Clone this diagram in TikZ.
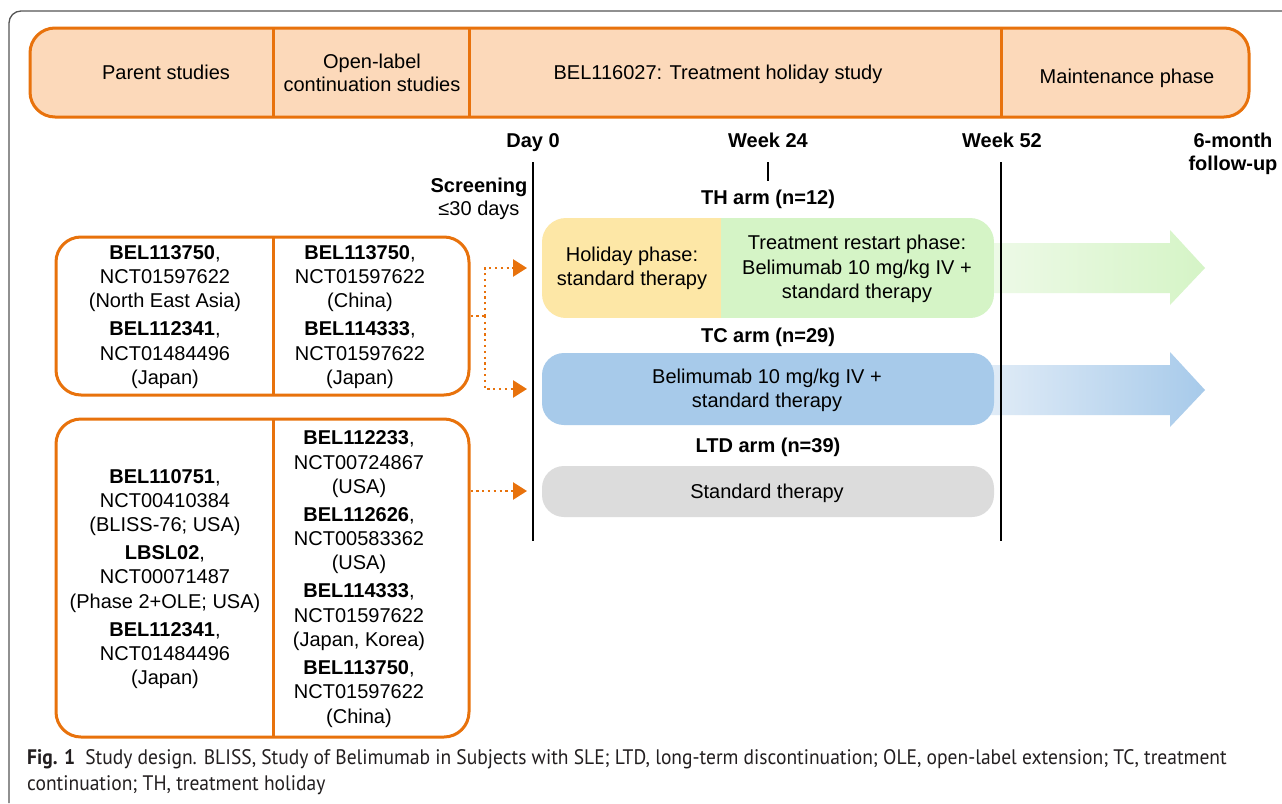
\documentclass[tikz,border=0pt]{standalone}
\usepackage{fontspec}
\setmainfont{Liberation Sans}
\newfontfamily\capfont[FakeStretch=0.93]{PT Sans}
\usetikzlibrary{arrows.meta}
\definecolor{orng}{HTML}{E8720C}
\definecolor{peach}{HTML}{FCD9BA}
\definecolor{yel}{HTML}{FDE7A6}
\definecolor{grn}{HTML}{D5F4C6}
\definecolor{grnl}{HTML}{EEFAE8}
\definecolor{blu}{HTML}{A7CAEA}
\definecolor{blul}{HTML}{E1ECF7}
\definecolor{gry}{HTML}{DCDCDC}
\definecolor{frame}{HTML}{555555}
\definecolor{captxt}{HTML}{231F20}
\tikzset{
  txt/.style={align=center, inner sep=0pt, font=\fontsize{20}{24.3}\selectfont},
  htxt/.style={align=center, inner sep=0pt, font=\fontsize{20}{22.5}\selectfont},
  lbl/.style={align=center, inner sep=0pt, font=\bfseries\fontsize{20}{23}\selectfont},
  obox/.style={draw=orng, line width=3pt, rounded corners=25pt, inner sep=0pt},
  odiv/.style={draw=orng, line width=3pt},
  tline/.style={draw=black, line width=2pt},
  armbox/.style={rounded corners=22pt, inner sep=0pt, minimum width=452pt},
  dotarr/.style={draw=orng, line width=2.5pt, dash pattern=on 2.2pt off 3.6pt},
  tip/.style={-{Triangle[length=14pt,width=17pt,fill=orng]}},
  captext/.style={anchor=base west, inner sep=0pt, text=captxt, font=\capfont\fontsize{21}{26}\selectfont}
}
\begin{document}
\begin{tikzpicture}[x=1pt,y=-1pt]
\useasboundingbox (0,0) rectangle (1282,803);
\fill[white] (0,0) rectangle (1282,803);
% outer frame
\draw[frame, line width=1.3pt, rounded corners=12pt] (9,803) -- (9,11) -- (1282,11);

% header bar
\node[obox, fill=peach, minimum width=1219pt, minimum height=89pt] (header) at (639.5,72.5) {};
\draw[odiv] (273,28) -- (273,117);
\draw[odiv] (469,28) -- (469,117);
\draw[odiv] (1001,28) -- (1001,117);
\node[htxt, anchor=base] (h1) at (166,79) {Parent studies};
\node[htxt] (h2) at (372,73) {Open-label\\continuation studies};
\node[htxt, anchor=base] (h3) at (718,79) {BEL116027: Treatment holiday study};
\node[htxt, anchor=base] (h4) at (1127,83) {Maintenance phase};

% timeline labels
\node[lbl, anchor=base] (d0) at (533,147) {Day 0};
\node[lbl, anchor=base] (w24) at (768,147) {Week 24};
\node[lbl, anchor=base] (w52) at (1002,147) {Week 52};
\node[lbl] (fu) at (1233,154) {6-month\\follow-up};
\node[align=center, inner sep=0pt, font=\fontsize{20}{23}\selectfont] (scr) at (479,199) {\textbf{Screening}\\≤30 days};

% arrows (behind boxes)
\shade[left color=grnl, right color=grn] (985,243) -- (1170,243) -- (1170,230) -- (1205,268) -- (1170,305) -- (1170,293) -- (985,293) -- cycle;
\shade[left color=blul, right color=blu] (985,365) -- (1170,365) -- (1170,352) -- (1205,390) -- (1170,427) -- (1170,415) -- (985,415) -- cycle;

% TH arm box
\begin{scope}
\clip[rounded corners=24pt] (542,218) rectangle (994,318);
\fill[yel] (542,218) rectangle (721,318);
\fill[grn] (721,218) rectangle (994,318);
\end{scope}
\node[txt] (hol) at (632,268) {Holiday phase:\\standard therapy};
\node[txt] (rst) at (857,269) {Treatment restart phase:\\Belimumab 10 mg/kg IV +\\standard therapy};
\node[lbl, anchor=base] (tha) at (768,204) {TH arm (n=12)};

% TC arm
\node[lbl, anchor=base] (tca) at (768,342) {TC arm (n=29)};
\node[armbox, fill=blu, minimum height=72pt] (tc) at (768,389) {};
\node[txt] (tct) at (767,390) {Belimumab 10 mg/kg IV +\\standard therapy};

% LTD arm
\node[lbl, anchor=base] (ltda) at (768,452) {LTD arm (n=39)};
\node[armbox, fill=gry, minimum height=51pt] (ltd) at (768,491.5) {};
\node[txt, anchor=base] (ltdt) at (767,498.5) {Standard therapy};

% vertical lines
\draw[tline] (533,162) -- (533,541);
\draw[tline] (1001,162) -- (1001,541);
\draw[tline] (768,162) -- (768,181);

% left box 1
\node[obox, minimum width=413pt, minimum height=158pt] (box1) at (262.5,316) {};
\draw[odiv] (273,237) -- (273,395);
\node[txt] (b1l) at (165,317) {\textbf{BEL113750},\\NCT01597622\\(North East Asia)\\[3.7pt]\textbf{BEL112341},\\NCT01484496\\(Japan)};
\node[txt] (b1r) at (360,317) {\textbf{BEL113750},\\NCT01597622\\(China)\\[3.7pt]\textbf{BEL114333},\\NCT01597622\\(Japan)};

% left box 2
\node[obox, minimum width=413pt, minimum height=318pt] (box2) at (262.5,578) {};
\draw[odiv] (273,419) -- (273,737);
\node[txt] (b2l) at (165,579) {\textbf{BEL110751},\\NCT00410384\\(BLISS-76; USA)\\[3.7pt]\textbf{LBSL02},\\NCT00071487\\(Phase 2+OLE; USA)\\[3.7pt]\textbf{BEL112341},\\NCT01484496\\(Japan)};
\node[txt] (b2r) at (359,579) {\textbf{BEL112233},\\NCT00724867\\(USA)\\[3.7pt]\textbf{BEL112626},\\NCT00583362\\(USA)\\[3.7pt]\textbf{BEL114333},\\NCT01597622\\(Japan, Korea)\\[3.7pt]\textbf{BEL113750},\\NCT01597622\\(China)};

% dotted connectors
\coordinate (j1) at (485,316);
\coordinate (t1) at (527,268);
\coordinate (t2) at (527,389);
\coordinate (t3) at (527,491);
\draw[dotarr] (box1.east) -- (j1);
\draw[dotarr, tip] (j1) |- (t1);
\draw[dotarr, tip] (j1) |- (t2);
\draw[dotarr, tip] (box2.east |- t3) -- (t3);

% caption
\node[captext] (cap1) at (27,764) {\textbf{Fig. 1}\hspace{10pt}Study design. BLISS, Study of Belimumab in Subjects with SLE; LTD, long-term discontinuation; OLE, open-label extension; TC, treatment};
\node[captext] (cap2) at (27,790) {continuation; TH, treatment holiday};
\end{tikzpicture}
\end{document}
